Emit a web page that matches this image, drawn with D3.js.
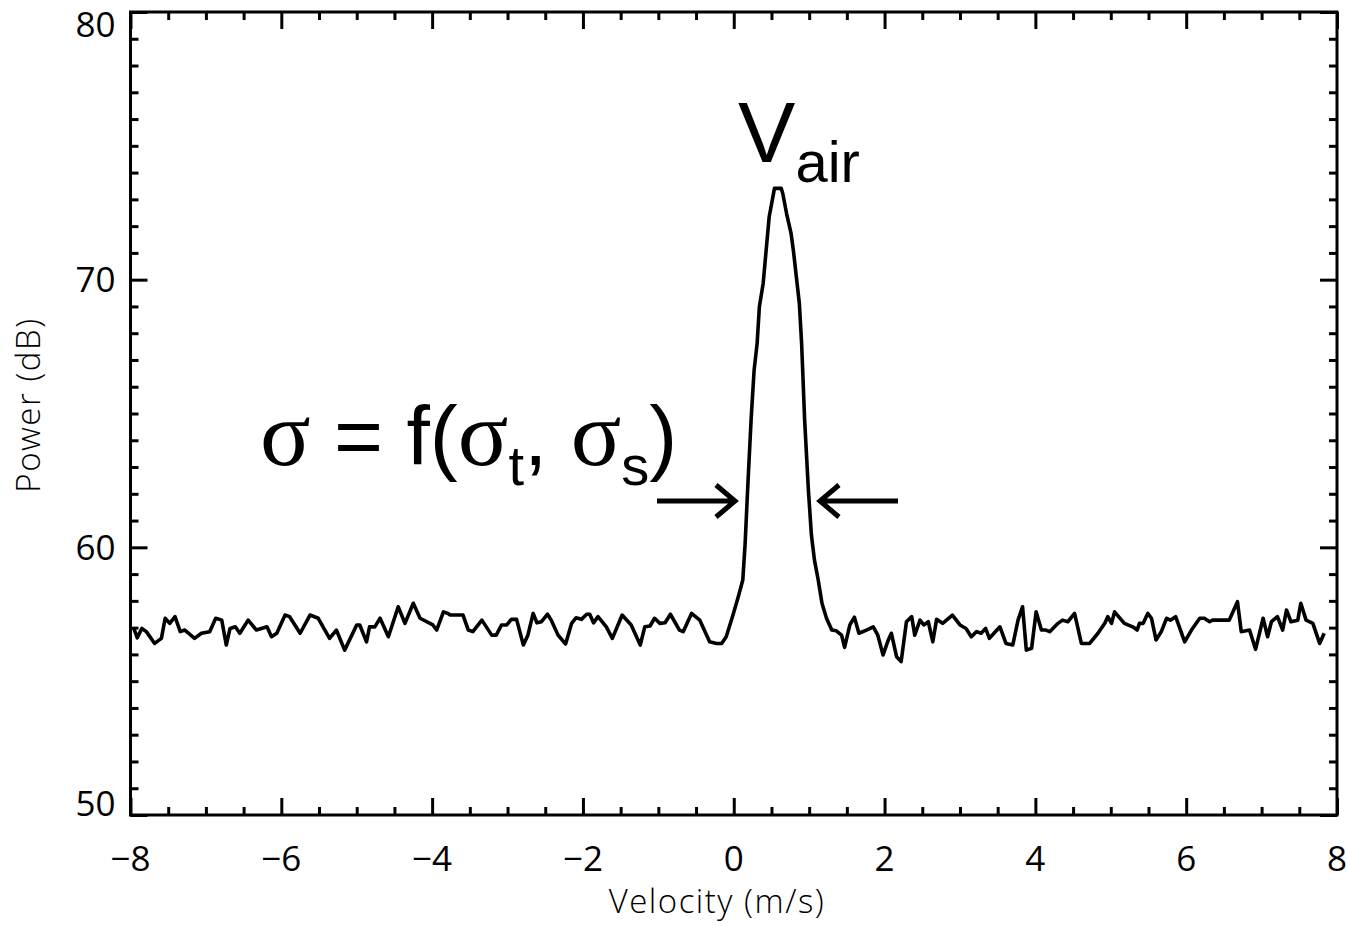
<!DOCTYPE html>
<html>
<head>
<meta charset="utf-8">
<script src="https://cdn.jsdelivr.net/npm/d3@7"></script>
<style>
  html, body { margin: 0; padding: 0; background: #fff; }
  svg { display: block; }
  .tick-label { font-family: "Open Sans", "DejaVu Sans", sans-serif; font-weight: 400; font-size: 35px; fill: #000; }
  .axis-title { font-family: "Open Sans", "DejaVu Sans", sans-serif; font-weight: 300; font-size: 33px; fill: #000; letter-spacing: 1.5px; }
  .note { font-family: "Liberation Sans", Arial, sans-serif; fill: #000; }
  .greek { font-family: "Liberation Serif", "Times New Roman", serif; }
</style>
</head>
<body>
<svg id="chart" width="1347" height="926"></svg>
<script>
// Doppler spectrum: received power versus radial velocity
const velocity = [
  -7.96, -7.91, -7.85, -7.79, -7.68, -7.59, -7.54, -7.48, -7.41, -7.34, -7.28, -7.15, -7.06, -6.95,
  -6.87, -6.79, -6.73, -6.68, -6.61, -6.55, -6.44, -6.33, -6.19, -6.13, -6.06, -5.95, -5.89, -5.75,
  -5.62, -5.51, -5.36, -5.27, -5.16, -5.00, -4.96, -4.87, -4.83, -4.76, -4.69, -4.58, -4.45, -4.36,
  -4.25, -4.16, -3.99, -3.94, -3.85, -3.79,
  -3.76, -3.59, -3.52, -3.46, -3.34, -3.21, -3.15, -3.08, -3.01, -2.95, -2.88, -2.79, -2.73, -2.66,
  -2.61, -2.55, -2.47, -2.42, -2.33, -2.23, -2.15, -2.09, -2.02, -1.95, -1.91, -1.86, -1.80, -1.69,
  -1.61, -1.48, -1.36, -1.24, -1.18, -1.11, -1.05, -0.98, -0.91, -0.84, -0.72, -0.67, -0.56, -0.45,
  -0.32, -0.23, -0.16, -0.10, -0.01,
  0.06, 0.12, 0.15, 0.19, 0.23, 0.27, 0.31, 0.34, 0.39, 0.43, 0.47, 0.54, 0.63, 0.65, 0.70, 0.76,
  0.79, 0.83, 0.87, 0.90, 0.94, 0.99, 1.03, 1.07, 1.12, 1.17, 1.23, 1.30,
  1.36, 1.43, 1.47, 1.54, 1.60, 1.66, 1.76, 1.85, 1.91, 1.98, 2.05, 2.09, 2.16, 2.22, 2.29, 2.36,
  2.40, 2.47, 2.52, 2.58, 2.64, 2.69, 2.77, 2.90, 3.00, 3.08, 3.15, 3.22, 3.28, 3.34, 3.39, 3.53,
  3.61, 3.70, 3.77, 3.83, 3.88, 3.95, 4.01, 4.08, 4.14,
  4.19, 4.30, 4.36, 4.43, 4.52, 4.61, 4.72, 4.83, 4.92, 4.96, 5.01, 5.05, 5.18, 5.29, 5.35, 5.38,
  5.43, 5.49, 5.54, 5.60, 5.67, 5.74, 5.79, 5.86, 5.98, 6.07, 6.18, 6.24, 6.31, 6.35, 6.57, 6.68,
  6.73, 6.84, 6.92, 7.02, 7.08, 7.13, 7.21, 7.28, 7.33, 7.39, 7.48, 7.52, 7.59, 7.68, 7.77, 7.83
];
const power = [
  57.00, 56.62, 56.97, 56.85, 56.41, 56.60, 57.35, 57.16, 57.41, 56.85, 56.91, 56.60, 56.79, 56.85,
  57.35, 57.28, 56.35, 56.97, 57.03, 56.79, 57.28, 56.91, 57.03, 56.66, 56.79, 57.47, 57.41, 56.79,
  57.47, 57.35, 56.60, 56.91, 56.16, 57.10, 57.10, 56.47, 57.03, 57.03, 57.35, 56.66, 57.78, 57.16,
  57.91, 57.35, 57.10, 56.91, 57.59, 57.53,
  57.47, 57.47, 56.91, 56.85, 57.28, 56.72, 56.72, 57.10, 57.10, 57.31, 57.31, 56.35, 56.72, 57.53,
  57.18, 57.22, 57.50, 57.28, 56.72, 56.39, 57.16, 57.37, 57.31, 57.50, 57.50, 57.18, 57.41, 57.03,
  56.60, 57.47, 57.10, 56.35, 57.03, 57.06, 57.35, 57.16, 57.18, 57.50, 56.91, 56.85, 57.53, 57.28,
  56.47, 56.41, 56.41, 56.66, 57.47,
  58.15, 58.78, 60.09, 62.51, 64.76, 66.62, 67.62, 68.99, 69.86, 71.11, 72.35, 73.41, 73.41, 73.22, 72.48, 71.73,
  71.11, 70.11, 69.11, 67.62, 64.76, 62.14, 60.46, 59.53, 58.78, 57.91, 57.35, 56.91,
  56.88, 56.72, 56.26, 57.10, 57.39, 56.79, 56.91, 57.03, 56.72, 55.98, 56.54, 56.79, 55.91, 55.73, 57.22, 57.41,
  56.72, 57.28, 57.10, 57.22, 56.47, 57.31, 57.16, 57.47, 57.10, 56.97, 56.66, 56.85, 56.79, 56.97, 56.60, 57.03,
  56.41, 56.35, 57.28, 57.78, 56.16, 56.23, 57.59, 56.91, 56.91,
  56.85, 57.16, 57.28, 57.22, 57.53, 56.41, 56.41, 56.79, 57.16, 57.41, 57.16, 57.59, 57.16, 57.03, 56.91, 57.16,
  57.16, 57.53, 57.35, 56.54, 56.85, 57.35, 57.28, 57.41, 56.47, 56.91, 57.35, 57.35, 57.22, 57.28, 57.28, 57.97,
  56.85, 56.91, 56.19, 57.35, 56.66, 57.22, 57.41, 56.91, 57.66, 57.22, 57.28, 57.91, 57.28, 57.16, 56.41, 56.79
];
const xTickValues = [-8, -6, -4, -2, 0, 2, 4, 6, 8];
const yTickValues = [50, 60, 70, 80];
const xDomain = [-8, 8];
const yDomain = [50, 80];

const width = 1347, height = 926;
const margin = { top: 12, right: 10, bottom: 111, left: 130.5 };
const plotW = width - margin.left - margin.right;
const plotH = height - margin.top - margin.bottom;

const svg = d3.select("#chart");
const g = svg.append("g").attr("transform", `translate(${margin.left},${margin.top})`);

const x = d3.scaleLinear().domain(xDomain).range([0, plotW]);
const y = d3.scaleLinear().domain(yDomain).range([plotH, 0]);

const xMinor = d3.range(-8, 8.001, 0.5).filter(v => Math.abs(v / 2 - Math.round(v / 2)) > 1e-6);
const yMinor = d3.range(50, 80.001, 1).filter(v => v % 10 !== 0);

const majorLen = 17, minorLen = 8;

function styleAxis(sel) {
  sel.select(".domain").remove();
  sel.selectAll(".tick line").attr("stroke", "#000").attr("stroke-width", 3);
  sel.selectAll(".tick text").remove();
}

// ticks on all four sides, pointing inward
const axes = [
  [d3.axisBottom(x), `translate(0,${plotH})`, xTickValues, xMinor],
  [d3.axisTop(x), `translate(0,0)`, xTickValues, xMinor],
  [d3.axisLeft(y), `translate(0,0)`, yTickValues, yMinor],
  [d3.axisRight(y), `translate(${plotW},0)`, yTickValues, yMinor]
];
axes.forEach(([axis, tr, major, minor]) => {
  g.append("g").attr("transform", tr)
    .call(axis.tickValues(major).tickSizeInner(-majorLen).tickSizeOuter(0))
    .call(styleAxis);
  g.append("g").attr("transform", tr)
    .call(axis.tickValues(minor).tickSizeInner(-minorLen).tickSizeOuter(0))
    .call(styleAxis);
});

// frame
g.append("rect")
  .attr("x", 0).attr("y", 0).attr("width", plotW).attr("height", plotH)
  .attr("fill", "none").attr("stroke", "#000").attr("stroke-width", 3);

// tick labels
const fmt = v => (v < 0 ? "\u2212" + Math.abs(v) : String(v));
g.selectAll(".xlab").data(xTickValues).join("text")
  .attr("class", "tick-label")
  .attr("x", d => x(d)).attr("y", plotH + 56)
  .attr("text-anchor", "middle")
  .text(fmt);

g.selectAll(".ylab").data(yTickValues).join("text")
  .attr("class", "tick-label")
  .attr("x", -15)
  .attr("y", d => Math.min(Math.max(y(d), 12), plotH - 12))
  .attr("dy", "0.36em")
  .attr("text-anchor", "end")
  .text(fmt);

// axis titles
svg.append("text").attr("class", "axis-title")
  .attr("x", 717).attr("y", 913).attr("text-anchor", "middle")
  .text("Velocity (m/s)");
svg.append("text").attr("class", "axis-title")
  .attr("transform", "translate(40,405) rotate(-90)")
  .attr("text-anchor", "middle")
  .text("Power (dB)");

// spectrum line
const pts = velocity.map((v, i) => [v, power[i]]);
g.append("path")
  .datum(pts)
  .attr("fill", "none").attr("stroke", "#000").attr("stroke-width", 3.6)
  .attr("stroke-linejoin", "round")
  .attr("d", d3.line().x(d => x(d[0])).y(d => y(d[1])));

// peak label
const vLabel = svg.append("text").attr("class", "note").attr("x", 738).attr("y", 162);
vLabel.append("tspan").attr("font-size", 86).text("V");
vLabel.append("tspan").attr("font-size", 58).attr("dy", 20).text("air");

// spectral width label
const sLabel = svg.append("text").attr("class", "note").attr("x", 260).attr("y", 465).attr("font-size", 84);
sLabel.append("tspan").attr("class", "greek").attr("font-size", 94).text("\u03c3");
sLabel.append("tspan").text(" = f(");
sLabel.append("tspan").attr("class", "greek").attr("font-size", 94).text("\u03c3");
sLabel.append("tspan").attr("font-size", 56).attr("dy", 20).text("t");
sLabel.append("tspan").attr("dy", -20).text(", ");
sLabel.append("tspan").attr("class", "greek").attr("font-size", 94).text("\u03c3");
sLabel.append("tspan").attr("font-size", 56).attr("dy", 20).text("s");
sLabel.append("tspan").attr("dy", -20).text(")");

// width arrows
const arrows = svg.append("g").attr("fill", "none").attr("stroke", "#000")
  .attr("stroke-width", 5).attr("stroke-linecap", "butt").attr("stroke-linejoin", "miter");
arrows.append("path").attr("d", "M657,501 L733,501 M716,485 L735,501 L716,517");
arrows.append("path").attr("d", "M898,501 L822,501 M839,485 L820,501 L839,517");
</script>
</body>
</html>
